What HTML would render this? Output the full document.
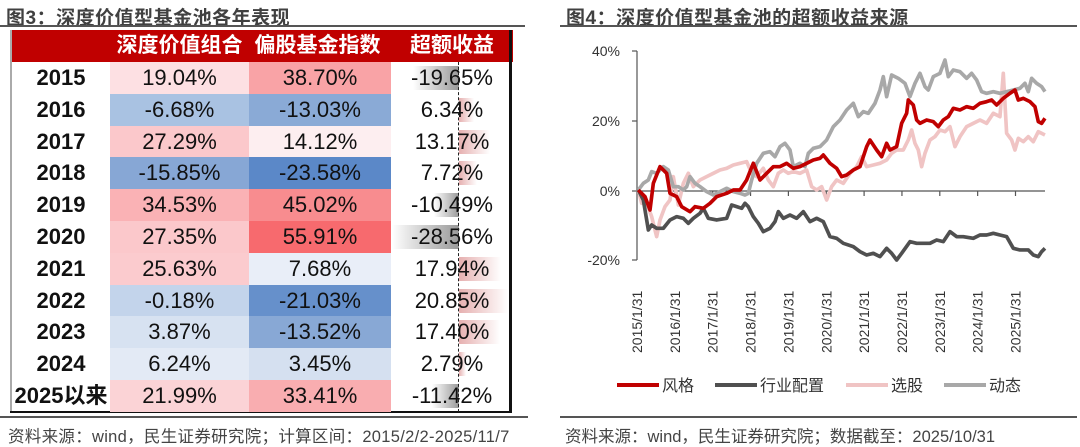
<!DOCTYPE html>
<html><head><meta charset="utf-8"><style>
*{margin:0;padding:0;box-sizing:border-box}
body{width:1080px;height:441px;background:#fff;position:relative;overflow:hidden;font-family:"Liberation Sans","Noto Sans CJK SC",sans-serif}
.t{position:absolute;font-weight:bold;font-size:19px;color:#404040;top:3px;letter-spacing:0.5px}
.hl{position:absolute;height:2px;background:#555}
.c{position:absolute;height:31.8px;line-height:31.8px;text-align:center;font-size:22px;color:#111}
.src{position:absolute;top:423px;font-size:16.5px;color:#444}
.bar{position:absolute;height:24px}
.hd{position:absolute;top:30px;height:32px;line-height:32px;color:#fff;font-weight:bold;font-size:21px;text-align:center}
</style></head><body>
<div class="t" style="left:6px">图3：深度价值型基金池各年表现</div>
<div class="hl" style="left:0;width:525px;top:25px"></div>
<div style="position:absolute;left:11px;top:30px;width:502px;height:32px;background:#c00000"></div>
<div class="hd" style="left:108px;width:143px">深度价值组合</div>
<div class="hd" style="left:247px;width:141px">偏股基金指数</div>
<div class="hd" style="left:391px;width:122px">超额收益</div>
<div style="position:absolute;left:10px;top:30px;width:2px;height:383px;background:#aaa"></div>
<div style="position:absolute;left:509px;top:30px;width:3px;height:383px;background:#111"></div>
<div style="position:absolute;left:10px;top:411px;width:502px;height:2px;background:#111"></div>
<div id="rows"></div>
<div style="position:absolute;left:458px;top:62px;height:350px;border-left:1.5px dashed #222"></div>
<div class="hl" style="left:0;width:528px;top:416px"></div>
<div class="src" style="left:8px;letter-spacing:0.3px">资料来源：wind，民生证券研究院；计算区间：2015/2/2-2025/11/7</div>

<div class="t" style="left:566px">图4：深度价值型基金池的超额收益来源</div>
<div class="hl" style="left:560px;width:517px;top:25px"></div>
<div class="hl" style="left:560px;width:517px;top:416px"></div>
<div class="src" style="left:565px">资料来源：wind，民生证券研究院；数据截至：2025/10/31</div>

<svg style="position:absolute;left:0;top:0" width="1080" height="441">
<g font-family="Liberation Sans, sans-serif" font-size="14" fill="#333" text-anchor="end">
<text x="620" y="56">40%</text><text x="620" y="126">20%</text><text x="620" y="196">0%</text><text x="620" y="265">-20%</text>
</g>
<g stroke="#555" stroke-width="1.2">
<line x1="637" y1="51" x2="637" y2="260"/>
<line x1="632" y1="51" x2="637" y2="51"/><line x1="632" y1="121" x2="637" y2="121"/><line x1="632" y1="191" x2="637" y2="191"/><line x1="632" y1="260" x2="637" y2="260"/>
<line x1="637" y1="191" x2="1045" y2="191"/>
<g id="ticks"></g>
</g>
<g font-family="Liberation Sans, sans-serif" font-size="14" fill="#333" id="xl"></g>
<g transform="translate(620,40) scale(0.3333)" fill="none" stroke-width="11" stroke-linejoin="round">
<polyline stroke="#f0c4c4" points="55,450 65,490 80,490 95,530 110,590 120,540 135,500 150,480 160,410 175,495 190,430 205,400 220,440 240,420 260,410 280,400 300,390 320,385 340,375 360,370 380,365 395,400 410,410 430,385 445,420 460,440 475,400 490,390 505,400 520,395 540,400 560,390 575,440 590,450 605,440 620,480 635,440 650,420 670,430 690,400 710,380 725,350 740,380 760,375 780,370 800,360 815,340 830,330 850,330 865,300 875,270 885,310 895,330 905,380 915,340 930,300 945,290 960,270 975,275 990,260 1005,320 1020,290 1040,260 1060,250 1080,240 1100,250 1120,220 1140,230 1150,100 1160,280 1175,300 1185,330 1195,295 1210,305 1225,290 1240,305 1255,275 1275,285"/>
<polyline stroke="#a8a8a8" points="55,450 70,430 85,420 95,395 110,400 130,380 145,390 160,440 175,440 190,450 200,440 210,410 225,430 240,440 260,455 280,465 300,455 320,445 340,455 360,460 375,465 385,460 395,420 410,370 430,340 450,335 465,350 480,320 495,310 510,330 520,380 540,370 555,380 565,340 580,325 600,320 620,300 640,260 660,240 680,210 700,190 715,230 730,215 745,220 765,190 780,150 790,110 800,170 815,105 835,115 855,130 870,170 885,130 900,100 915,140 925,150 940,110 960,100 975,60 985,110 1000,90 1020,95 1040,115 1055,100 1070,120 1085,155 1100,160 1120,155 1140,160 1160,155 1180,150 1200,145 1215,130 1225,155 1235,115 1250,130 1265,140 1275,155"/>
<polyline stroke="#505050" points="55,450 70,480 85,570 95,555 110,565 130,565 150,540 170,530 190,535 205,550 220,535 240,520 250,505 265,535 290,540 320,535 335,495 350,500 365,505 375,490 385,500 400,530 415,550 430,575 450,565 465,545 475,515 490,535 510,525 530,535 550,515 570,545 590,535 610,545 630,590 650,595 670,610 700,620 720,635 740,645 760,640 780,650 800,625 815,640 830,660 845,640 870,605 890,610 910,610 930,610 950,600 970,605 990,575 1010,590 1030,590 1060,595 1080,585 1100,585 1120,580 1140,585 1160,590 1180,625 1200,630 1225,630 1240,645 1255,650 1265,635 1275,625"/>
<polyline stroke="#c00000" points="55,450 75,470 90,510 100,430 120,380 140,400 150,460 170,470 185,500 210,515 225,500 250,505 270,490 290,470 320,460 340,450 360,450 380,420 400,370 420,420 440,400 460,380 480,380 500,370 520,385 540,380 560,370 580,360 600,355 610,345 630,370 650,385 665,410 680,405 700,390 720,380 740,320 750,300 770,330 785,350 800,310 810,330 830,320 845,250 860,220 865,180 880,195 890,240 900,250 920,240 940,245 955,260 970,240 985,230 1000,205 1020,210 1040,200 1060,205 1080,190 1100,185 1115,180 1130,195 1150,175 1170,160 1185,150 1195,180 1210,175 1230,185 1245,200 1255,245 1265,250 1275,235"/>
</g>
<g stroke-width="4">
<line x1="617" y1="385" x2="659" y2="385" stroke="#c00000"/>
<line x1="715" y1="385" x2="757" y2="385" stroke="#505050"/>
<line x1="846" y1="385" x2="888" y2="385" stroke="#f0c4c4"/>
<line x1="944" y1="385" x2="986" y2="385" stroke="#a8a8a8"/>
</g>
<g font-family="Liberation Sans, Noto Sans CJK SC, sans-serif" font-size="16" fill="#333">
<text x="662" y="391">风格</text><text x="760" y="391">行业配置</text><text x="891" y="391">选股</text><text x="989" y="391">动态</text>
</g>
</svg>
<script>
var d=[["2015","19.04%","#fde0e3","38.70%","#f9a3a6","-19.65%",-19.65],
["2016","-6.68%","#a9c2e2","-13.03%","#8aaad6","6.34%",6.34],
["2017","27.29%","#fbc8cb","14.12%","#fdeef0","13.17%",13.17],
["2018","-15.85%","#87a7d5","-23.58%","#5b88c8","7.72%",7.72],
["2019","34.53%","#fab2b5","45.02%","#f88c8f","-10.49%",-10.49],
["2020","27.35%","#fbc8cb","55.91%","#f76a6e","-28.56%",-28.56],
["2021","25.63%","#fbcbce","7.68%","#e9eef8","17.94%",17.94],
["2022","-0.18%","#c3d4eb","-21.03%","#6690cb","20.85%",20.85],
["2023","3.87%","#d7e2f1","-13.52%","#88a8d5","17.40%",17.40],
["2024","6.24%","#e3eaf5","3.45%","#d5e0f0","2.79%",2.79],
["2025以来","21.99%","#fbd3d6","33.41%","#f9adb0","-11.42%",-11.42]];
var h="";d.forEach(function(r,i){var y=62+i*31.8;
h+='<div class="c" style="left:12px;width:98px;top:'+y+'px;font-weight:bold">'+r[0]+'</div>';
h+='<div class="c" style="left:110px;width:139px;top:'+y+'px;background:'+r[2]+'">'+r[1]+'</div>';
h+='<div class="c" style="left:249px;width:142px;top:'+y+'px;background:'+r[4]+'">'+r[3]+'</div>';
var w=Math.abs(r[6])*2.35;
if(r[6]<0)h+='<div class="bar" style="left:'+(459-w)+'px;width:'+w+'px;top:'+(y+4)+'px;background:linear-gradient(to right,#fff,#999)"></div>';
else{h+='<div class="bar" style="left:459px;width:'+w+'px;top:'+(y+4)+'px;background:linear-gradient(to right,#e6b0b0,#fff)"></div>';}
h+='<div class="c" style="left:391px;width:122px;top:'+y+'px">'+r[5]+'</div>';});
document.getElementById("rows").outerHTML=h;
var t="",x="";for(var i=0;i<11;i++){var px=637+i*37.85;
if(i>0)t+='<line x1="'+px+'" y1="191" x2="'+px+'" y2="196"/>';
x+='<text transform="translate('+(px+5)+',353) rotate(-90)">'+(2015+i)+'/1/31</text>';}
document.getElementById("ticks").innerHTML=t;document.getElementById("xl").innerHTML=x;
</script>
</body></html>
